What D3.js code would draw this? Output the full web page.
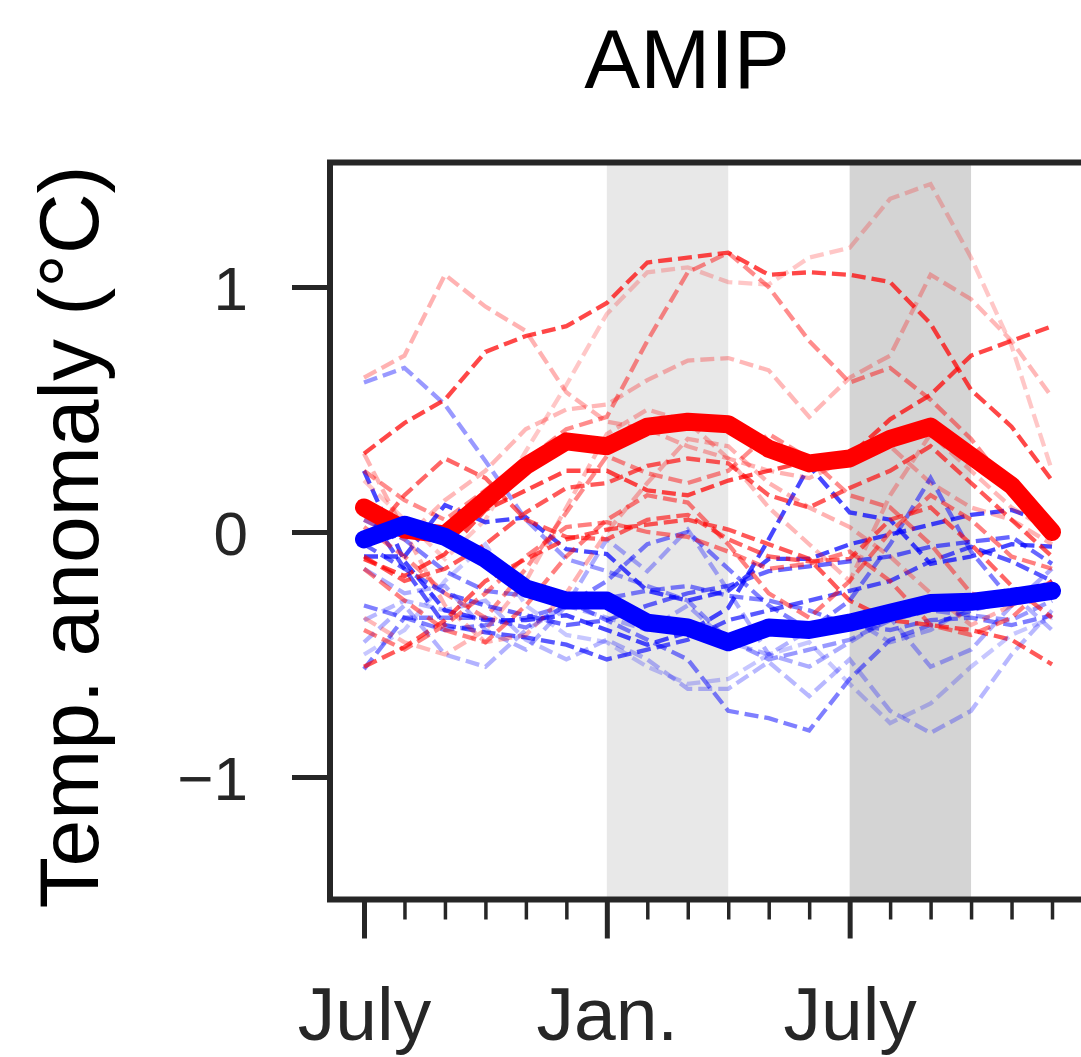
<!DOCTYPE html>
<html>
<head>
<meta charset="utf-8">
<script src="https://cdn.jsdelivr.net/npm/d3@7"></script>
<style>
  body { margin: 0; background: #fff; }
  text { font-family: 'Liberation Sans', Arial, sans-serif; }
</style>
</head>
<body>
<svg id="chart" width="1081" height="1057"></svg>
<script>
// month index: 0 = July, 6 = Jan., 12 = July
const monthIndex = [0, 1, 2, 3, 4, 5, 6, 7, 8, 9, 10, 11, 12, 13, 14, 15, 16, 17];
const majorTicks = [0, 6, 12];
const xTickLabels = ['July', 'Jan.', 'July'];
const yTicks = [-1, 0, 1];
const shadeSpans = [[6, 9], [12, 15]];

const redMean = [0.10, 0.01, -0.01, 0.13, 0.27, 0.37, 0.35, 0.43, 0.45, 0.44, 0.34, 0.28, 0.30, 0.38, 0.43, 0.31, 0.19, 0.00];
const blueMean = [-0.03, 0.03, -0.02, -0.11, -0.23, -0.28, -0.28, -0.37, -0.39, -0.45, -0.39, -0.40, -0.37, -0.33, -0.29, -0.285, -0.265, -0.24];

const redMembers = [
  [0.32, 0.445, 0.54, 0.735, 0.80, 0.84, 0.935, 1.10, 1.12, 1.14, 1.05, 1.06, 1.05, 1.02, 0.85, 0.58, 0.43, 0.21],
  [0.63, 0.72, 1.05, 0.92, 0.82, 0.57, 0.45, 0.42, 0.35, 0.30, 0.25, 0.22, 0.30, 0.35, 0.20, 0.10, 0.05, -0.05],
  [0.21, 0.05, -0.11, 0.05, 0.33, 0.60, 0.89, 1.06, 1.08, 1.02, 1.01, 1.12, 1.16, 1.36, 1.42, 1.12, 0.76, 0.25],
  [0.25, 0.13, 0.05, 0.17, 0.29, 0.42, 0.47, 0.78, 1.06, 1.14, 1.00, 0.78, 0.61, 0.67, 0.54, 0.38, 0.17, 0.01],
  [0.05, -0.03, 0.13, 0.25, 0.42, 0.50, 0.52, 0.62, 0.70, 0.71, 0.66, 0.47, 0.63, 0.72, 1.05, 0.95, 0.78, 0.55],
  [-0.11, -0.18, -0.09, 0.09, 0.17, 0.25, 0.25, 0.17, 0.15, 0.21, 0.25, 0.29, 0.31, 0.46, 0.56, 0.72, 0.78, 0.84],
  [-0.55, -0.47, -0.36, -0.20, -0.11, -0.03, 0.01, 0.03, 0.05, 0.01, -0.05, -0.11, -0.28, -0.36, -0.38, -0.40, -0.44, -0.54],
  [0.02, -0.10, -0.25, -0.35, -0.15, 0.08, 0.31, 0.24, 0.20, 0.25, 0.40, 0.30, 0.15, 0.10, -0.05, -0.25, -0.30, -0.20],
  [-0.05, 0.15, 0.30, 0.22, 0.05, -0.02, -0.03, 0.05, 0.07, -0.03, -0.10, -0.12, -0.11, 0.05, 0.10, -0.05, -0.22, -0.35],
  [0.32, 0.00, -0.30, -0.45, -0.42, -0.25, 0.00, 0.20, 0.38, 0.35, 0.20, 0.10, 0.02, -0.10, -0.25, -0.38, -0.30, -0.25],
  [-0.15, -0.28, -0.40, -0.45, -0.30, -0.10, 0.05, 0.15, 0.12, -0.05, -0.25, -0.35, -0.20, 0.00, 0.15, 0.05, -0.10, -0.15],
  [-0.10, -0.20, -0.15, -0.05, 0.08, 0.18, 0.20, 0.27, 0.30, 0.28, 0.15, 0.10, 0.18, 0.25, 0.35, 0.20, 0.05, -0.10],
  [-0.35, -0.45, -0.50, -0.40, -0.20, 0.10, 0.40, 0.50, 0.45, 0.30, 0.10, -0.05, -0.20, 0.15, 0.40, 0.25, 0.10, 0.00],
  [-0.40, -0.48, -0.38, -0.25, -0.10, 0.02, 0.04, 0.00, -0.02, -0.08, -0.15, -0.13, -0.08, -0.20, -0.38, -0.42, -0.35, -0.20]
];

const blueMembers = [
  [0.61, 0.67, 0.52, 0.29, 0.05, -0.11, -0.16, -0.22, -0.28, -0.44, -0.52, -0.48, -0.44, -0.36, -0.32, -0.34, -0.36, -0.28],
  [0.25, -0.12, -0.32, -0.36, -0.36, -0.34, -0.40, -0.46, -0.41, -0.31, -0.03, 0.27, 0.08, 0.05, -0.13, -0.10, -0.05, -0.06],
  [-0.36, -0.28, -0.32, -0.28, -0.44, -0.52, -0.44, -0.52, -0.64, -0.64, -0.53, -0.67, -0.52, -0.73, -0.82, -0.73, -0.50, -0.32],
  [0.05, -0.03, -0.16, -0.24, -0.26, -0.28, -0.36, -0.44, -0.52, -0.73, -0.76, -0.81, -0.60, -0.44, -0.38, -0.32, -0.28, -0.20],
  [-0.56, -0.35, -0.35, -0.35, -0.39, -0.30, -0.27, -0.24, -0.22, -0.26, -0.28, -0.32, -0.38, -0.40, -0.36, -0.35, -0.38, -0.34],
  [-0.10, -0.10, 0.11, 0.04, 0.06, -0.07, -0.09, -0.24, -0.28, -0.24, -0.11, -0.11, -0.05, -0.01, 0.03, 0.07, 0.09, 0.03],
  [0.10, -0.15, -0.38, -0.41, -0.43, -0.46, -0.52, -0.48, -0.44, -0.36, -0.32, -0.28, -0.24, -0.20, -0.12, -0.06, -0.12, -0.20],
  [-0.30, -0.35, -0.40, -0.38, -0.35, -0.30, -0.20, -0.05, 0.00, -0.15, -0.30, -0.40, -0.28, -0.05, 0.22, -0.08, -0.28, -0.23],
  [-0.15, -0.25, -0.22, -0.40, -0.48, -0.30, -0.03, -0.16, 0.01, -0.24, -0.50, -0.55, -0.45, -0.35, -0.55, -0.48, -0.30, -0.15],
  [-0.50, -0.40, -0.20, -0.05, -0.30, -0.42, -0.45, -0.55, -0.62, -0.60, -0.50, -0.45, -0.62, -0.78, -0.70, -0.55, -0.42, -0.35],
  [-0.05, -0.15, -0.25, -0.30, -0.34, -0.38, -0.36, -0.30, -0.25, -0.22, -0.16, -0.14, -0.12, -0.10, -0.06, -0.04, -0.02, -0.13],
  [-0.45, -0.30, -0.50, -0.55, -0.40, -0.30, -0.35, -0.40, -0.30, -0.45, -0.50, -0.40, -0.35, -0.45, -0.40, -0.30, -0.25, -0.40]
];

// line opacities for the ensemble members
const redAlpha = [0.72, 0.3, 0.22, 0.45, 0.28, 0.72, 0.65, 0.45, 0.6, 0.3, 0.5, 0.65, 0.28, 0.5];
const blueAlpha = [0.4, 0.72, 0.28, 0.5, 0.5, 0.72, 0.65, 0.5, 0.32, 0.22, 0.6, 0.3];

const svg = d3.select('#chart');
const plot = { left: 330, right: 1086, top: 164.5, bottom: 899.5 };

const x = d3.scaleLinear().domain([-0.84, 17.84]).range([plot.left, plot.right]);
const y = d3.scaleLinear().domain([-1.5, 1.5]).range([plot.bottom, plot.top]);

svg.append('defs').append('clipPath').attr('id', 'clip')
  .append('rect')
  .attr('x', plot.left).attr('y', plot.top)
  .attr('width', plot.right - plot.left).attr('height', plot.bottom - plot.top);

// shaded seasons
svg.append('g').selectAll('rect')
  .data(shadeSpans)
  .join('rect')
  .attr('x', d => x(d[0]))
  .attr('width', d => x(d[1]) - x(d[0]))
  .attr('y', plot.top)
  .attr('height', plot.bottom - plot.top)
  .attr('fill', (d, i) => (i === 0 ? '#e8e8e8' : '#d4d4d4'));

const line = d3.line()
  .x((d, i) => x(monthIndex[i]))
  .y(d => y(d));

const lines = svg.append('g').attr('clip-path', 'url(#clip)');

// ensemble members, interleaved red / blue
const members = [];
const n = Math.max(redMembers.length, blueMembers.length);
for (let i = 0; i < n; i++) {
  if (i < blueMembers.length) members.push({ v: blueMembers[i], c: `rgba(0,0,255,${blueAlpha[i]})` });
  if (i < redMembers.length) members.push({ v: redMembers[i], c: `rgba(255,0,0,${redAlpha[i]})` });
}

lines.selectAll('path.member')
  .data(members)
  .join('path')
  .attr('class', 'member')
  .attr('d', d => line(d.v))
  .attr('fill', 'none')
  .attr('stroke', d => d.c)
  .attr('stroke-width', 4.3)
  .attr('stroke-dasharray', '14,6');

lines.append('path')
  .attr('d', line(redMean))
  .attr('fill', 'none')
  .attr('stroke', '#ff0000')
  .attr('stroke-width', 18)
  .attr('stroke-linecap', 'round')
  .attr('stroke-linejoin', 'round');

lines.append('path')
  .attr('d', line(blueMean))
  .attr('fill', 'none')
  .attr('stroke', '#0000ff')
  .attr('stroke-width', 18)
  .attr('stroke-linecap', 'round')
  .attr('stroke-linejoin', 'round');

// y axis
const yAxis = svg.append('g')
  .attr('transform', `translate(${plot.left},0)`)
  .call(d3.axisLeft(y).tickValues(yTicks).tickSize(38).tickPadding(44)
    .tickFormat(d => (d < 0 ? '\u2212' + Math.abs(d) : d)));
yAxis.select('.domain').remove();
yAxis.selectAll('line').attr('stroke', '#262626').attr('stroke-width', 5);
yAxis.selectAll('text').attr('font-size', 62).attr('fill', '#262626')
  .attr('font-family', "'Liberation Sans', Arial, sans-serif")
  .attr('dy', '0.36em');

// x axis: major and minor ticks
const xMinor = svg.append('g')
  .attr('transform', `translate(0,${plot.bottom})`)
  .call(d3.axisBottom(x).tickValues(monthIndex.filter(m => !majorTicks.includes(m)))
    .tickSize(20).tickFormat(''));
xMinor.select('.domain').remove();
xMinor.selectAll('line').attr('stroke', '#262626').attr('stroke-width', 3.5);

const xMajor = svg.append('g')
  .attr('transform', `translate(0,${plot.bottom})`)
  .call(d3.axisBottom(x).tickValues(majorTicks).tickSize(39).tickPadding(48)
    .tickFormat((d, i) => xTickLabels[i]));
xMajor.select('.domain').remove();
xMajor.selectAll('line').attr('stroke', '#262626').attr('stroke-width', 5);
xMajor.selectAll('text').attr('font-size', 75).attr('fill', '#262626')
  .attr('font-family', "'Liberation Sans', Arial, sans-serif");

// spines
const spine = svg.append('g').attr('stroke', '#262626').attr('stroke-width', 6).attr('fill', 'none');
spine.append('path')
  .attr('d', `M${plot.right + 10},${plot.top - 2}H${plot.left}V${plot.bottom}H${plot.right + 10}`)
  .attr('stroke-linecap', 'square');

// title and y label
svg.append('text')
  .attr('x', 687).attr('y', 88)
  .attr('text-anchor', 'middle')
  .attr('font-size', 84)
  .style('fill', '#000')
  .text('AMIP');

svg.append('text')
  .attr('transform', 'translate(98,537) rotate(-90)')
  .attr('text-anchor', 'middle')
  .attr('font-size', 84)
  .style('fill', '#000')
  .text('Temp. anomaly (°C)');
</script>
</body>
</html>
